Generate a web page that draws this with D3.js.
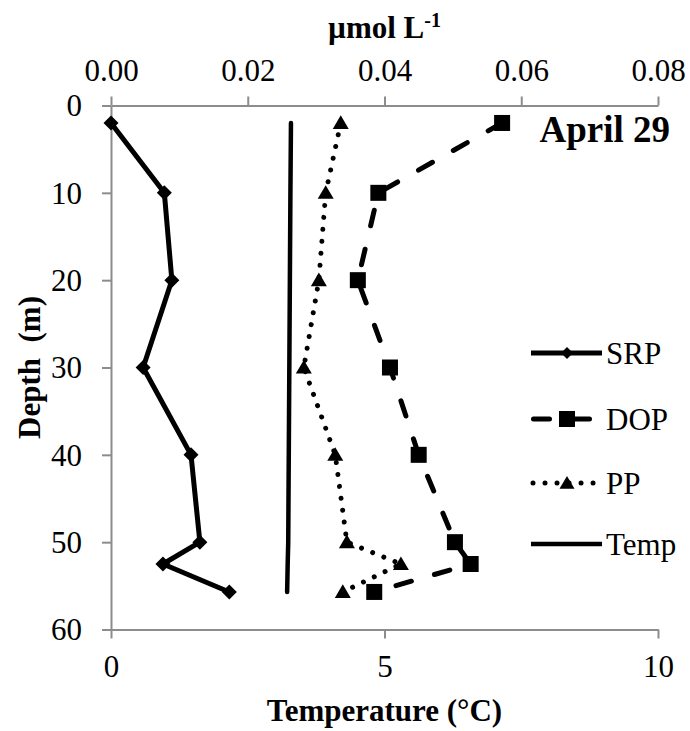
<!DOCTYPE html>
<html><head><meta charset="utf-8">
<script src="https://cdn.jsdelivr.net/npm/d3@7"></script>
<style>body{margin:0;background:#fff}svg{display:block}
svg text{font-family:"Liberation Serif","Times New Roman",Times,"DejaVu Serif",serif !important;}
</style>
</head><body>
<svg id="c" width="690" height="731"></svg>
<script>
// ---- data ----
const depths = [2, 10, 20, 30, 40, 50, 52.5, 55.7];
const srp = [0.0000, 0.0078, 0.0089, 0.0047, 0.0117, 0.0130, 0.0076, 0.0173];
const dop = [0.0572, 0.0391, 0.0361, 0.0408, 0.0450, 0.0503, 0.0526, 0.0385];
const pp  = [0.0336, 0.0314, 0.0304, 0.0282, 0.0328, 0.0345, 0.0424, 0.0339];
const temp = [3.29, 3.28, 3.27, 3.26, 3.25, 3.24, 3.23, 3.22];
const topTicks = [0, 0.02, 0.04, 0.06, 0.08];
const bottomTicks = [0, 5, 10];
const depthTicks = [0, 10, 20, 30, 40, 50, 60];
const seriesNames = ["SRP", "DOP", "PP", "Temp"];

const svg = d3.select("#c");
const L = 111, R = 658, T = 105.5, B = 629.5;
const x = d3.scaleLinear().domain([0, 0.08]).range([L, R]);
const xt = d3.scaleLinear().domain([0, 10]).range([L, R]);
const y = d3.scaleLinear().domain([0, 60]).range([T, B]);
const FONT = "Liberation Serif";
const axisColor = "#8c8c8c";

function styleAxis(g) {
  g.attr("font-family", FONT);
  g.select(".domain").attr("stroke", axisColor).attr("stroke-width", 2);
  g.selectAll(".tick line").attr("stroke", axisColor).attr("stroke-width", 2);
  g.selectAll(".tick text").attr("fill", "#000").attr("font-family", FONT).attr("font-size", 31);
}

// axes
const gTop = svg.append("g").attr("transform", `translate(0,${T})`)
  .call(d3.axisTop(x).tickValues(topTicks).tickFormat(d3.format(".2f")).tickSize(9).tickSizeOuter(0));
styleAxis(gTop);
gTop.selectAll(".tick text").attr("y", -25).attr("dy", null);

const gBot = svg.append("g").attr("transform", `translate(0,${B})`)
  .call(d3.axisBottom(xt).tickValues(bottomTicks).tickFormat(d3.format("d")).tickSize(9).tickSizeOuter(0));
styleAxis(gBot);
gBot.selectAll(".tick text").attr("y", 47).attr("dy", null);

const gLeft = svg.append("g").attr("transform", `translate(${L},0)`)
  .call(d3.axisLeft(y).tickValues(depthTicks).tickFormat(d3.format("d")).tickSize(9).tickSizeOuter(0));
styleAxis(gLeft);
gLeft.selectAll(".tick text").attr("x", -29).attr("dy", "0.33em");

// titles
const t1 = svg.append("text").attr("x", (L + R) / 2).attr("y", 38).attr("text-anchor", "middle")
  .attr("font-family", FONT).attr("font-size", 31).attr("font-weight", "bold");
t1.append("tspan").text("µmol L");
t1.append("tspan").attr("dy", -11).attr("font-size", 20).text("-1");

svg.append("text").attr("x", (L + R) / 2).attr("y", 721).attr("text-anchor", "middle")
  .attr("font-family", FONT).attr("font-size", 31).attr("font-weight", "bold")
  .text("Temperature (°C)");

svg.append("text").attr("transform", `translate(40,${(T + B) / 2}) rotate(-90)`).attr("text-anchor", "middle")
  .attr("font-family", FONT).attr("font-size", 31).attr("font-weight", "bold")
  .attr("xml:space", "preserve").style("white-space", "pre")
  .text("Depth  (m)");

svg.append("text").attr("x", 670).attr("y", 142).attr("text-anchor", "end")
  .attr("font-family", FONT).attr("font-size", 37).attr("font-weight", "bold")
  .text("April 29");

// series
const mk = (vals) => depths.map((d, i) => ({ d, v: vals[i] }));
const lineN = d3.line().x(p => x(p.v)).y(p => y(p.d));
const lineT = d3.line().x(p => xt(p.v)).y(p => y(p.d));

const styles = {
  SRP: { w: 5, dash: null },
  DOP: { w: 5, dash: "16,24" },
  PP: { w: 5, dash: "0.01,12" },
  Temp: { w: 4.5, dash: null }
};

function drawMarker(g, type, cx, cy, s) {
  if (type === "SRP") {
    g.append("path").attr("d", `M${cx},${cy - s}L${cx + s},${cy}L${cx},${cy + s}L${cx - s},${cy}Z`).attr("fill", "#000");
  } else if (type === "DOP") {
    g.append("rect").attr("x", cx - s).attr("y", cy - s).attr("width", 2 * s).attr("height", 2 * s).attr("fill", "#000");
  } else if (type === "PP") {
    g.append("path").attr("d", `M${cx},${cy - s * 0.95}L${cx + s},${cy + s * 0.75}L${cx - s},${cy + s * 0.75}Z`).attr("fill", "#000");
  }
}

const gData = svg.append("g");
gData.append("path").datum(mk(temp)).attr("d", lineT).attr("fill", "none").attr("stroke", "#000")
  .attr("stroke-width", styles.Temp.w).attr("stroke-linecap", "round");
gData.append("path").datum(mk(pp)).attr("d", lineN).attr("fill", "none").attr("stroke", "#000")
  .attr("stroke-width", styles.PP.w).attr("stroke-linecap", "round").attr("stroke-dasharray", styles.PP.dash);
mk(pp).forEach(p => drawMarker(gData, "PP", x(p.v), y(p.d), 8));
gData.append("path").datum(mk(dop)).attr("d", lineN).attr("fill", "none").attr("stroke", "#000")
  .attr("stroke-width", styles.DOP.w).attr("stroke-linecap", "round").attr("stroke-dasharray", styles.DOP.dash);
mk(dop).forEach(p => drawMarker(gData, "DOP", x(p.v), y(p.d), 8));
gData.append("path").datum(mk(srp)).attr("d", lineN).attr("fill", "none").attr("stroke", "#000")
  .attr("stroke-width", styles.SRP.w).attr("stroke-linejoin", "round");
mk(srp).forEach(p => drawMarker(gData, "SRP", x(p.v), y(p.d), 7.5));

// legend
const legY = [353, 419, 483, 544];
const gLeg = svg.append("g");
seriesNames.forEach((name, i) => {
  const yy = legY[i];
  const st = styles[name];
  const x0 = name === "PP" ? 533 : (name === "DOP" ? 533.5 : 531);
  const x1 = name === "PP" ? 594 : (name === "DOP" ? 590 : 602);
  gLeg.append("line").attr("x1", x0).attr("x2", x1).attr("y1", yy).attr("y2", yy)
    .attr("stroke", "#000").attr("stroke-width", st.w)
    .attr("stroke-linecap", name === "SRP" || name === "Temp" ? "butt" : "round")
    .attr("stroke-dasharray", st.dash);
  if (name === "SRP") drawMarker(gLeg, name, 567, yy, 6);
  if (name === "DOP") drawMarker(gLeg, name, 567, yy, 8);
  if (name === "PP") drawMarker(gLeg, name, 567, yy, 7.5);
  gLeg.append("text").attr("x", 606).attr("y", yy).attr("dy", "0.35em")
    .attr("font-family", FONT).attr("font-size", 31).text(name);
});
</script>
</body></html>
